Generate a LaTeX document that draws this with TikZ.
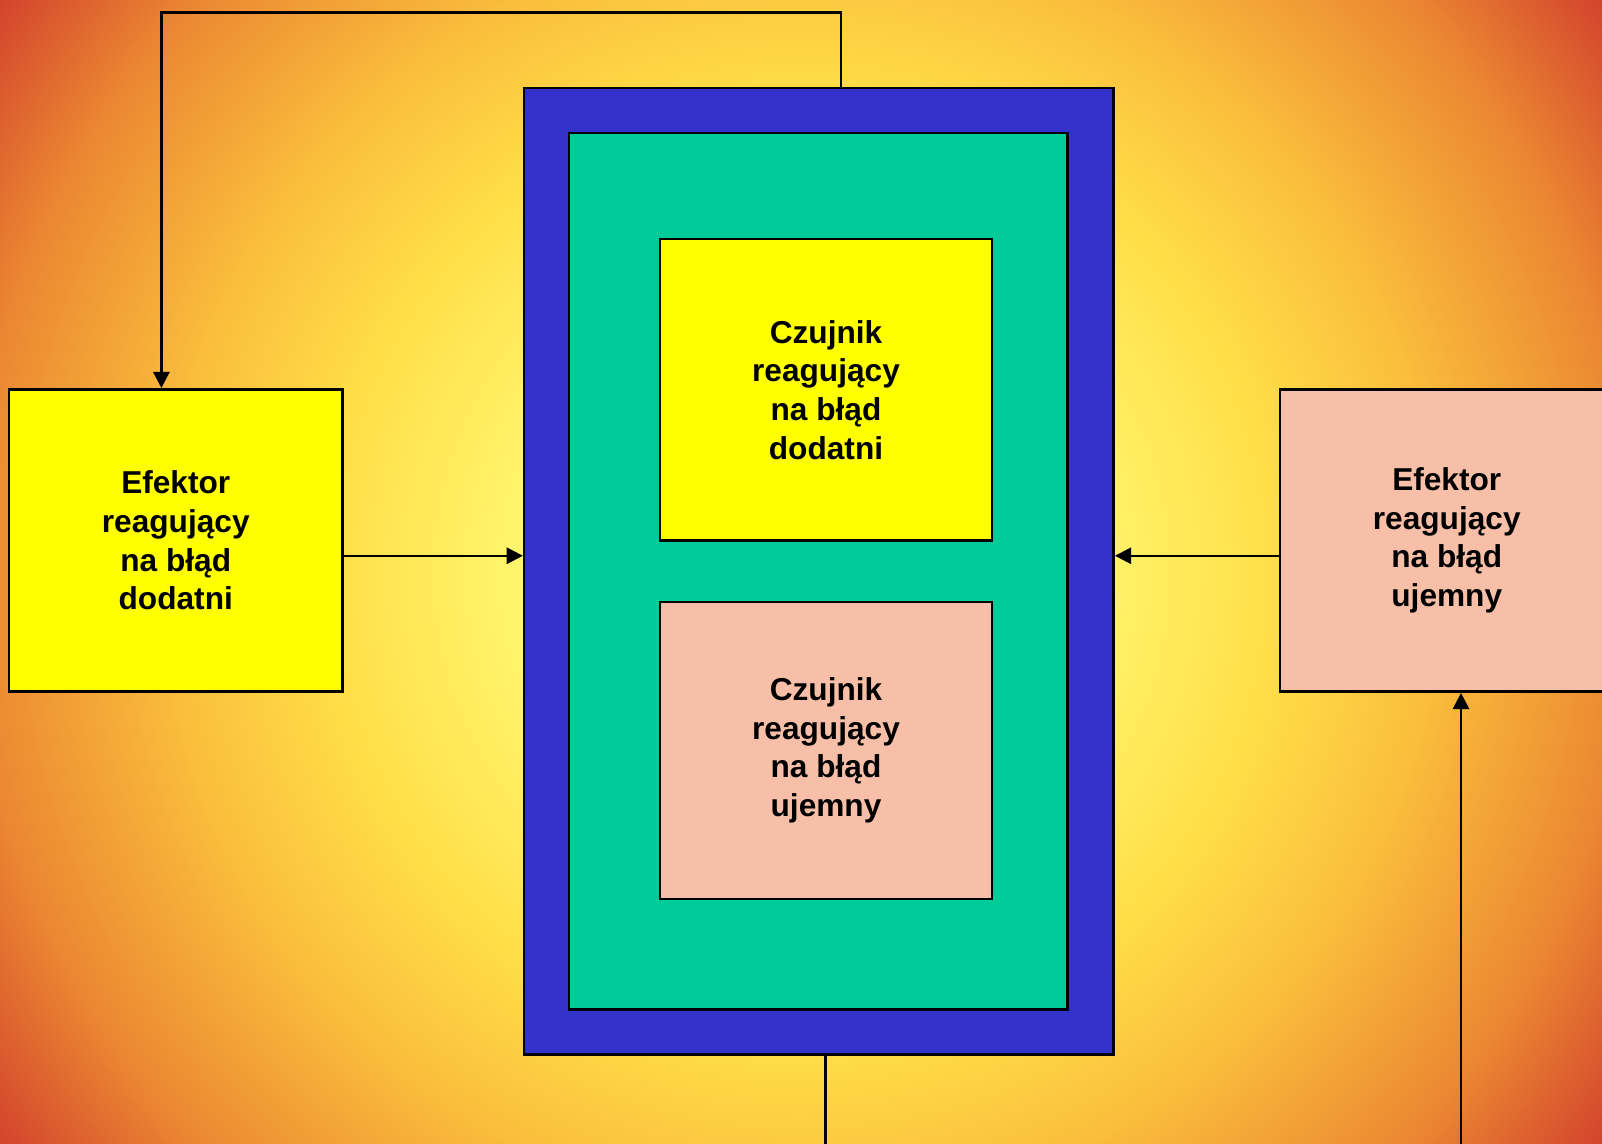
\documentclass[tikz,border=0pt]{standalone}
\usepackage{fontspec}
\setmainfont{Liberation Sans}
\usetikzlibrary{arrows.meta}
\definecolor{niebieski}{RGB}{51,51,204}
\definecolor{zielony}{RGB}{0,204,153}
\definecolor{zolty}{RGB}{255,255,0}
\definecolor{rozowy}{RGB}{247,191,167}
\definecolor{tloA}{RGB}{255,255,175}
\definecolor{tloB}{RGB}{255,246,110}
\definecolor{tloC}{RGB}{255,222,72}
\definecolor{tloD}{RGB}{250,190,60}
\definecolor{tloE}{RGB}{235,135,50}
\definecolor{tloF}{RGB}{210,65,45}
\pgfdeclareradialshading{tlo}{\pgfpoint{0bp}{0bp}}{color(0bp)=(tloA); color(7bp)=(tloB); color(12bp)=(tloC); color(16bp)=(tloD); color(21bp)=(tloE); color(25bp)=(tloF); color(50bp)=(tloF)}

\begin{document}
\begin{tikzpicture}[blok/.style={rectangle, draw, line width=0.7pt, align=center, font=\fontsize{9}{11}\selectfont\bfseries},
  strzalka/.style={line width=0.7pt, -{Triangle[length=4.6pt,width=4.6pt]}}]
\useasboundingbox (0,0) rectangle (16.02,11.44);
\begin{scope}
\clip (0,0) rectangle (16.02,11.44);
\fill[shading=tlo] (-1.89,-4.18) rectangle (17.91,15.62);
\node[blok, fill=rozowy, minimum width=3.331cm, minimum height=3.024cm](efUj) at (14.4675,6.035){Efektor\\reagujący\\na błąd\\ujemny};
\end{scope}

\node[blok, fill=niebieski, minimum width=5.896cm, minimum height=9.665cm](uklad) at (8.189,5.7285){};
\node[blok, fill=zielony, minimum width=4.986cm, minimum height=8.766cm](srodek) at (8.184,5.729){};
\node[blok, fill=zolty, minimum width=3.32cm, minimum height=3.015cm](czDod) at (8.26,7.5425){Czujnik\\reagujący\\na błąd\\dodatni};
\node[blok, fill=rozowy, minimum width=3.32cm, minimum height=2.973cm](czUj) at (8.26,3.9355){Czujnik\\reagujący\\na błąd\\ujemny};
\node[blok, fill=zolty, minimum width=3.331cm, minimum height=3.024cm](efDod) at (1.7575,6.035){Efektor\\reagujący\\na błąd\\dodatni};

\coordinate (gora) at (8.409,11.317);
\coordinate (goraL) at (1.614,11.317);
\coordinate (poziom) at (0,5.882);
\coordinate (dolS) at (8.255,0);
\coordinate (dolP) at (14.61,0);

\draw[strzalka] (uklad.north -| gora) |- (goraL) -- (efDod.north -| goraL);
\draw[strzalka] (efDod.east |- poziom) -- (uklad.west |- poziom);
\draw[strzalka] (efUj.west |- poziom) -- (uklad.east |- poziom);
\draw[line width=0.7pt] (uklad.south -| dolS) -- (dolS);
\draw[strzalka] (dolP) -- (efUj.south -| dolP);

\end{tikzpicture}
\end{document}
